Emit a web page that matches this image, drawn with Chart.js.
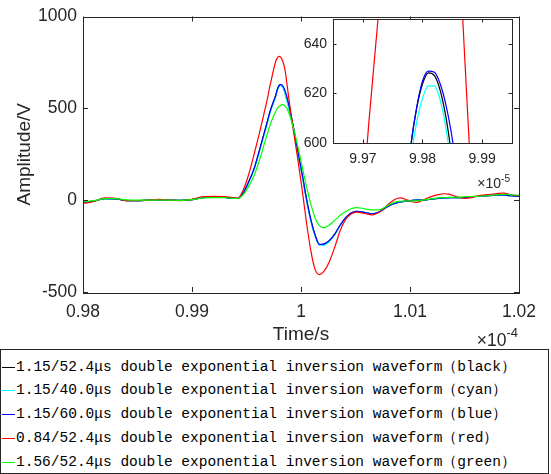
<!DOCTYPE html>
<html>
<head>
<meta charset="utf-8">
<script src="https://cdn.jsdelivr.net/npm/chart.js@4.4.0/dist/chart.umd.min.js"></script>
<style>
  body { margin: 0; background: #fff; }
  #wrap { position: relative; width: 551px; height: 474px; overflow: hidden; font-family: 'Liberation Sans', Arial, sans-serif; color: #262626; }
  #mainChart { position: absolute; left: 0; top: 0; }
  #insetChart { position: absolute; left: 290px; top: 0; }
  .expo { position: absolute; line-height: 1; white-space: nowrap; }
  .expo span { position: relative; }
  #legend { position: absolute; left: 0; top: 349px; width: 547px; height: 123px; border: 1px solid #262626; background: #fff;
            font-family: 'Liberation Mono', monospace; font-size: 14.5px; color: #000; }
  .row { position: absolute; left: 0; height: 20px; white-space: nowrap; }
  .row b { position: absolute; left: 1px; top: 10px; width: 13px; height: 1px; }
  .row span { position: absolute; left: 15px; top: 0; line-height: 20px; }
</style>
</head>
<body>
<div id="wrap">
  <canvas id="mainChart" width="551" height="350"></canvas>
  <canvas id="insetChart" width="240" height="200"></canvas>
  <div class="expo" style="right:33px; top:332px; font-size:17.5px;">×10<span style="font-size:13px; top:-9px;">-4</span></div>
  <div class="expo" style="right:41px; top:176px; font-size:14px;">×10<span style="font-size:10px; top:-6px;">-5</span></div>
  <div id="legend"></div>
</div>
<script>
// time in units of 1e-4 s
const time = [0.980, 0.981, 0.982, 0.983, 0.984, 0.985, 0.986, 0.987, 0.988, 0.989, 0.990, 0.991, 0.992, 0.993, 0.9937,
  0.9942, 0.9947, 0.9952, 0.9957, 0.9962, 0.9966, 0.9969, 0.9971, 0.9973, 0.9975, 0.9977, 0.9978, 0.9979, 0.9980, 0.9981,
  0.9982, 0.9983, 0.9984, 0.9985, 0.9986, 0.9987, 0.9989, 0.9993, 0.9997, 1.0001, 1.0005, 1.0009, 1.0013, 1.0017, 1.0021,
  1.0026, 1.0031, 1.0036, 1.0041, 1.0046, 1.0051, 1.0056, 1.0061, 1.0066, 1.0071, 1.0076, 1.0081, 1.0086,
  1.0091, 1.0096, 1.0101, 1.0106, 1.0111, 1.0116, 1.0121, 1.0126, 1.0131, 1.0136, 1.0141, 1.0146, 1.0151, 1.0156,
  1.0161, 1.0166, 1.0171, 1.0176, 1.0181, 1.0186, 1.0191, 1.0196, 1.0200];

const blackV = [-12, -5, 8, 7, -2, -2, 0, 2, 0, -1, 3, 14, 16, 15, 11,
  10, 40, 100, 172, 274, 360, 425, 470, 507, 540, 574, 598, 613.8, 623.8, 628.3,
  627.2, 620.9, 609.4, 592.6, 572, 552, 505, 395, 262, 140, 5, -108, -192, -242, -240,
  -220, -185, -135, -95, -70, -61, -64, -70, -74, -66, -48, -30, -18,
  -10, -5, -2, 0, 0, 3, 7, 10, 12, 14, 14, 14, 15, 17, 20, 22, 24, 26, 27, 28, 25, 22, 21];

const cyanV = [-12, -5, 8, 7, -2, -2, 0, 2, 0, -1, 3, 14, 16, 15, 11,
  10, 40, 98, 168, 268, 352, 416, 462, 500, 533, 568, 593, 608, 618, 623,
  623, 617, 605, 587, 563, 540, 495, 385, 255, 135, 0, -112, -196, -244, -246,
  -224, -188, -137, -96, -71, -62, -64, -70, -74, -66, -48, -30, -18,
  -10, -5, -2, 0, 0, 3, 7, 10, 12, 13, 14, 14, 15, 17, 20, 22, 24, 26, 27, 28, 25, 22, 21];

const blueV = [-12, -5, 8, 7, -2, -2, 0, 2, 0, -1, 3, 14, 16, 15, 11,
  10, 40, 100, 172, 274, 360, 425, 470, 507, 540, 572, 598, 614, 625, 629,
  628.5, 623.6, 614.6, 601.6, 584.5, 565, 515, 400, 268, 146, 10, -105, -190, -241, -238,
  -220, -185, -135, -95, -70, -61, -64, -70, -74, -66, -48, -30, -18,
  -10, -5, -2, 0, 0, 3, 7, 10, 12, 14, 14, 14, 15, 17, 20, 22, 24, 26, 27, 28, 25, 22, 21];

const redV = [-18, -7, 12, 10, -3, -2, 0, 4, 0, -2, 4, 19, 21, 20, 14,
  10, 55, 140, 250, 369, 470, 547, 608, 662, 715, 759, 771, 780, 783, 781,
  773, 760, 742, 719, 684, 638, 547, 380, 225, 60, -120, -275, -378, -405, -388,
  -335, -255, -165, -105, -75, -65, -70, -76, -80, -68, -45, -18, 4,
  12, 5, -7, -12, -2, 12, 22, 30, 35, 33, 22, 14, 10, 14, 22, 27, 30, 33, 37, 38, 32, 26, 25];

const greenV = [-9, -3, 8, 8, 2, 0, 0, 1, 0, -1, 3, 12, 14, 14, 10,
  9, 30, 75, 135, 220, 300, 360, 398, 432, 460, 485, 496, 505, 511, 516,
  519, 520, 518, 514, 508, 500, 472, 395, 295, 185, 75, -22, -98, -140, -150,
  -135, -110, -82, -62, -47, -41, -44, -50, -53, -53, -42, -25, -10,
  -6, -5, -4, -4, 0, 4, 8, 13, 14, 15, 16, 17, 19, 20, 21, 22, 24, 27, 30, 32, 30, 28, 27];

const seriesLabels = [
  '1.15/52.4μs double exponential inversion waveform（black）',
  '1.15/40.0μs double exponential inversion waveform（cyan）',
  '1.15/60.0μs double exponential inversion waveform（blue）',
  '0.84/52.4μs double exponential inversion waveform（red）',
  '1.56/52.4μs double exponential inversion waveform（green）'
];
const seriesColors = ['#000000', '#00ffff', '#0000ff', '#ff0000', '#00ff00'];
const seriesValues = [blackV, cyanV, blueV, redV, greenV];

const mainXTicks = [0.98, 0.99, 1.00, 1.01, 1.02];
const mainYTicks = [-500, 0, 500, 1000];
const insetXTicks = [0.997, 0.998, 0.999];
const insetYTicks = [600, 620, 640];

const axisColor = '#262626';
const fam = "'Liberation Sans', Arial, sans-serif";

function makeSets() {
  return seriesValues.map((vals, i) => ({
    label: seriesLabels[i],
    data: time.map((t, j) => ({ x: t, y: vals[j] })),
    borderColor: seriesColors[i],
    borderWidth: 1.2,
    pointRadius: 0,
    cubicInterpolationMode: 'monotone',
    order: seriesValues.length - i
  }));
}

// box round the plot area with inward ticks, like the original
const framePlugin = {
  id: 'frame',
  beforeDatasetsDraw(chart) {
    const { ctx, chartArea: a } = chart;
    ctx.save();
    ctx.fillStyle = '#fff';
    ctx.fillRect(a.left, a.top, a.right - a.left, a.bottom - a.top);
    ctx.restore();
  },
  afterDraw(chart, args, opts) {
    const { ctx, chartArea: a, scales: { x, y } } = chart;
    const L = opts.len;
    ctx.save();
    ctx.strokeStyle = axisColor;
    ctx.lineWidth = 1;
    ctx.beginPath();
    x.ticks.forEach(t => {
      const p = Math.round(x.getPixelForValue(t.value)) + 0.5;
      ctx.moveTo(p, a.bottom); ctx.lineTo(p, a.bottom - L);
      ctx.moveTo(p, a.top); ctx.lineTo(p, a.top + L);
    });
    y.ticks.forEach(t => {
      const p = Math.round(y.getPixelForValue(t.value)) + 0.5;
      ctx.moveTo(a.left, p); ctx.lineTo(a.left + L, p);
      ctx.moveTo(a.right, p); ctx.lineTo(a.right - L, p);
    });
    ctx.stroke();
    ctx.strokeRect(Math.round(a.left) + 0.5, Math.round(a.top) + 0.5,
                   Math.round(a.right - a.left), Math.round(a.bottom - a.top));
    ctx.restore();
  }
};

new Chart(document.getElementById('mainChart'), {
  type: 'line',
  data: { datasets: makeSets() },
  options: {
    responsive: false,
    animation: false,
    layout: { padding: { left: 0, right: 32, top: 11, bottom: 0 } },
    plugins: { legend: { display: false }, tooltip: { enabled: false }, frame: { len: 5 } },
    scales: {
      x: {
        type: 'linear', min: 0.98, max: 1.02,
        grid: { display: false, drawTicks: false }, border: { display: false },
        afterBuildTicks: s => { s.ticks = mainXTicks.map(v => ({ value: v })); },
        afterFit: s => { s.height = 58; },
        ticks: { padding: 10, color: axisColor, maxRotation: 0, font: { family: fam, size: 17.5 },
                 callback: v => String(+v.toFixed(2)) },
        title: { display: true, text: 'Time/s', color: axisColor, font: { family: fam, size: 19 },
                 padding: { top: 0, bottom: 4 } }
      },
      y: {
        type: 'linear', min: -500, max: 1000,
        grid: { display: false, drawTicks: false }, border: { display: false },
        afterBuildTicks: s => { s.ticks = mainYTicks.map(v => ({ value: v })); },
        afterFit: s => { s.width = 83; },
        ticks: { padding: 6, color: axisColor, font: { family: fam, size: 17.5 },
                 callback: v => String(v) },
        title: { display: true, text: 'Amplitude/V', color: axisColor, font: { family: fam, size: 19 },
                 padding: { top: 13, bottom: 0 } }
      }
    }
  },
  plugins: [framePlugin]
});

new Chart(document.getElementById('insetChart'), {
  type: 'line',
  data: { datasets: makeSets() },
  options: {
    responsive: false,
    animation: false,
    layout: { padding: { left: 0, right: 18, top: 19, bottom: 0 } },
    plugins: { legend: { display: false }, tooltip: { enabled: false }, frame: { len: 3.5 } },
    scales: {
      x: {
        type: 'linear', min: 0.9965, max: 0.9995,
        grid: { display: false, drawTicks: false }, border: { display: false },
        afterBuildTicks: s => { s.ticks = insetXTicks.map(v => ({ value: v })); },
        afterFit: s => { s.height = 57; },
        ticks: { padding: 8, color: axisColor, maxRotation: 0, font: { family: fam, size: 14 },
                 callback: v => (v * 10).toFixed(2) }
      },
      y: {
        type: 'linear', min: 600, max: 650,
        grid: { display: false, drawTicks: false }, border: { display: false },
        afterBuildTicks: s => { s.ticks = insetYTicks.map(v => ({ value: v })); },
        afterFit: s => { s.width = 43; },
        ticks: { padding: 6, color: axisColor, font: { family: fam, size: 14 },
                 callback: v => String(v) }
      }
    }
  },
  plugins: [framePlugin]
});

// legend box under the chart
const legend = document.getElementById('legend');
seriesLabels.forEach((lab, i) => {
  const row = document.createElement('div');
  row.className = 'row';
  row.style.top = Math.round(6.5 + 23.75 * i) + 'px';
  const mark = document.createElement('b');
  mark.style.background = seriesColors[i];
  const txt = document.createElement('span');
  txt.textContent = lab;
  row.appendChild(mark);
  row.appendChild(txt);
  legend.appendChild(row);
});
</script>
</body>
</html>
